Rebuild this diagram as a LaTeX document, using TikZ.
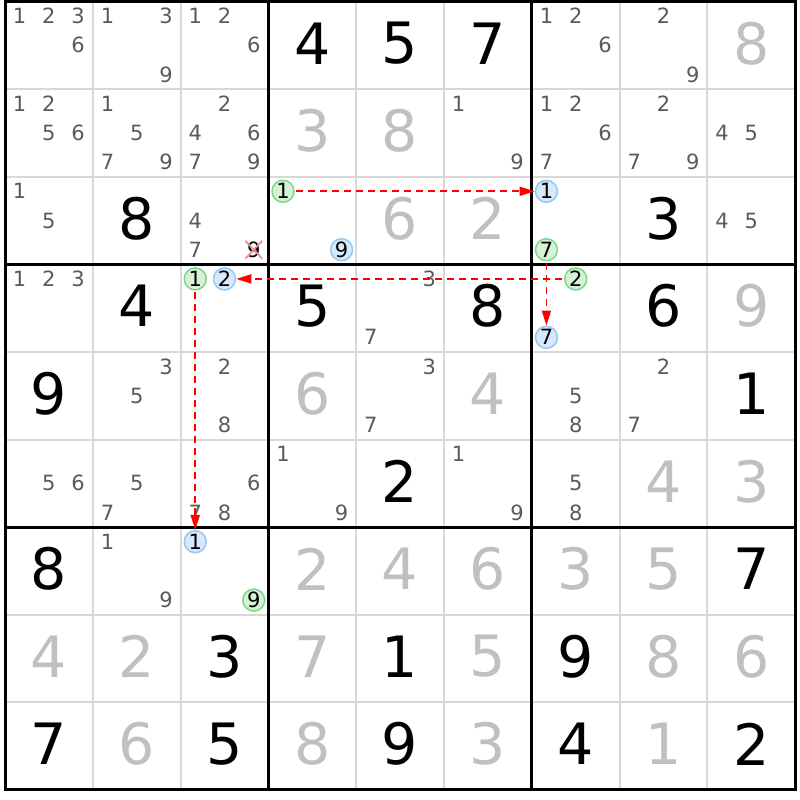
\documentclass[tikz,border=0pt]{standalone}
\usepackage{fontspec}
\setmainfont{DejaVu Sans}
\usetikzlibrary{arrows.meta,shapes.misc}
\definecolor{candgray}{RGB}{90,90,90}
\definecolor{solvedgray}{RGB}{192,192,192}
\definecolor{thingrid}{RGB}{216,216,216}
\definecolor{hgfill}{RGB}{214,242,214}
\definecolor{hgdraw}{RGB}{128,214,140}
\definecolor{hbfill}{RGB}{214,232,252}
\definecolor{hbdraw}{RGB}{150,200,240}
\definecolor{linkred}{RGB}{255,0,0}
\definecolor{elimx}{RGB}{240,140,150}
\tikzset{
 bigdigit/.style={inner sep=0pt, font=\fontsize{57}{57}\selectfont},
 givendigit/.style={bigdigit, text=black},
 solveddigit/.style={bigdigit, text=solvedgray},
 canddigit/.style={inner sep=0pt, font=\fontsize{21}{21}\selectfont, text=candgray},
 hlbase/.style={circle, minimum size=22pt, inner sep=0pt, line width=1.5pt, font=\fontsize{21}{21}\selectfont, text=black},
 hlgreen/.style={hlbase, fill=hgfill, draw=hgdraw},
 hlblue/.style={hlbase, fill=hbfill, draw=hbdraw},
 elimdigit/.style={cross out, draw=elimx, line width=1.8pt, minimum width=15pt, minimum height=16pt, inner sep=0pt, font=\fontsize{21}{21}\selectfont, text=black},
 linkarrow/.style={draw=linkred, line width=1.8pt, dash pattern=on 7pt off 5pt, -{Triangle[length=15pt,width=9pt]}, shorten <=1.5pt},
 thinline/.style={draw=thingrid, line width=2pt},
 thickline/.style={draw=black, line width=3pt},
}
\newcommand\putbig[4]{%
  \pgfmathsetmacro\tmpx{5+(#3-0.5)*87.8}%
  \pgfmathsetmacro\tmpy{1.5+(#2-0.5)*87.6-2}%
  \node[#1] (v#2#3) at (\tmpx,\tmpy) {#4};%
}
\newcommand\putcand[5]{%
  \pgfmathsetmacro\tmpx{5+(#4-1)*87.8+(mod(#5-1,3)+0.5)*29.267}%
  \pgfmathsetmacro\tmpy{1.5+(#3-1)*87.6+(floor((#5-1)/3)+0.5)*29.2}%
  \node[#1] (#2) at (\tmpx,\tmpy) {#5};%
}
\newcommand\candlist[3]{%
  \foreach \dd in {#3}{\putcand{canddigit}{k#1#2\dd}{#1}{#2}{\dd}}%
}
\begin{document}
\begin{tikzpicture}[x=1pt,y=-1pt]
\useasboundingbox (0,0) rectangle (800,800);
\fill[white] (0,0) rectangle (800,800);
% thin grid
\foreach \i in {1,2,4,5,7,8} {
  \draw[thinline] (5+\i*87.8,1.5) -- (5+\i*87.8,789.9);
  \draw[thinline] (5,1.5+\i*87.6) -- (795.2,1.5+\i*87.6);
}
% thick grid
\foreach \i in {3,6} {
  \draw[thickline] (5+\i*87.8,1.5) -- (5+\i*87.8,789.9);
  \draw[thickline] (5,1.5+\i*87.6) -- (795.2,1.5+\i*87.6);
}
\draw[thickline] (5,1.5) rectangle (795.2,789.9);
% given digits
\foreach \r/\c/\v in {1/4/4,1/5/5,1/6/7,3/2/8,3/8/3,4/2/4,4/4/5,4/6/8,4/8/6,5/1/9,5/9/1,6/5/2,7/1/8,7/9/7,8/3/3,8/5/1,8/7/9,9/1/7,9/3/5,9/5/9,9/7/4,9/9/2}
  {\putbig{givendigit}{\r}{\c}{\v}}
% solved digits
\foreach \r/\c/\v in {1/9/8,2/4/3,2/5/8,3/5/6,3/6/2,4/9/9,5/4/6,5/6/4,6/8/4,6/9/3,7/4/2,7/5/4,7/6/6,7/7/3,7/8/5,8/1/4,8/2/2,8/4/7,8/6/5,8/8/8,8/9/6,9/2/6,9/4/8,9/6/3,9/8/1}
  {\putbig{solveddigit}{\r}{\c}{\v}}
% candidates
\candlist{1}{1}{1,2,3,6}
\candlist{1}{2}{1,3,9}
\candlist{1}{3}{1,2,6}
\candlist{1}{7}{1,2,6}
\candlist{1}{8}{2,9}
\candlist{2}{1}{1,2,5,6}
\candlist{2}{2}{1,5,7,9}
\candlist{2}{3}{2,4,6,7,9}
\candlist{2}{6}{1,9}
\candlist{2}{7}{1,2,6,7}
\candlist{2}{8}{2,7,9}
\candlist{2}{9}{4,5}
\candlist{3}{1}{1,5}
\candlist{3}{3}{4,7}
\candlist{3}{9}{4,5}
\candlist{4}{1}{1,2,3}
\candlist{4}{5}{3,7}
\candlist{5}{2}{3,5}
\candlist{5}{3}{2,8}
\candlist{5}{5}{3,7}
\candlist{5}{7}{5,8}
\candlist{5}{8}{2,7}
\candlist{6}{1}{5,6}
\candlist{6}{2}{5,7}
\candlist{6}{3}{6,7,8}
\candlist{6}{4}{1,9}
\candlist{6}{6}{1,9}
\candlist{6}{7}{5,8}
\candlist{7}{2}{1,9}
% eliminated candidate
\putcand{elimdigit}{xE}{3}{3}{9}
% highlighted candidates
\putcand{hlgreen}{hA}{3}{4}{1}
\putcand{hlblue}{hC}{3}{4}{9}
\putcand{hlblue}{hB}{3}{7}{1}
\putcand{hlgreen}{hD}{3}{7}{7}
\putcand{hlgreen}{hH}{4}{3}{1}
\putcand{hlblue}{hG}{4}{3}{2}
\putcand{hlgreen}{hF}{4}{7}{2}
\putcand{hlblue}{hE}{4}{7}{7}
\putcand{hlblue}{hI}{7}{3}{1}
\putcand{hlgreen}{hJ}{7}{3}{9}
% links
\draw[linkarrow] (hA) -- (hB);
\draw[linkarrow] (hF) -- (hG);
\draw[linkarrow] (hD) -- (hE);
\draw[linkarrow] (hH) -- (hI);
\end{tikzpicture}
\end{document}
